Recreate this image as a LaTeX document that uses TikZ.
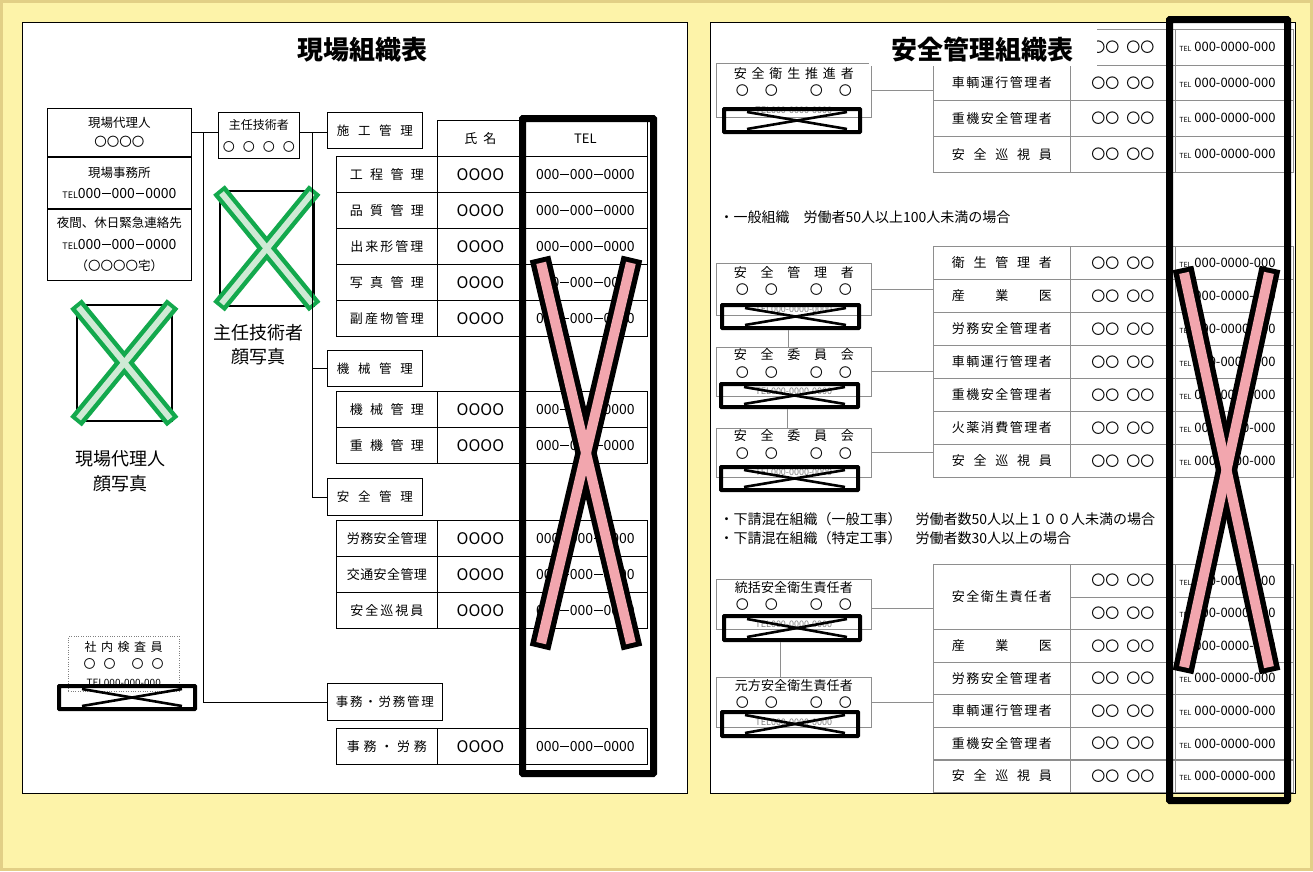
\documentclass[tikz,border=0pt]{standalone}
\usepackage{fontspec}
\setmainfont{Noto Sans CJK JP}
\usetikzlibrary{positioning}

\definecolor{paper}{HTML}{FDF3A9}
\definecolor{paperedge}{HTML}{E2CF86}
\definecolor{xgreen}{HTML}{13A94D}
\definecolor{xgreenl}{HTML}{CFEAD5}
\definecolor{xpink}{HTML}{F2A6AE}
\definecolor{rulegray}{HTML}{8E8E8E}

\newcommand\jfs[2]{\fontsize{#1}{#2}\selectfont}
% spread the characters of #2 over a box #1 wide
\def\jspreadi#1{\ifx#1\relax\unskip\else#1\hfil\expandafter\jspreadi\fi}
\newcommand\jspread[2]{\edef\jtmp{#2}\hbox to #1{\expandafter\jspreadi\jtmp\relax}}
\newcommand\jcircs[1]{\hbox to #1{〇\hfil〇\hfil\hfil〇\hfil〇}}
\newcommand\jdash{\kern1pt\rule[0.3em]{0.6em}{0.09em}\kern1pt}

\begin{document}
\begin{tikzpicture}[x=1pt,y=-1pt,
  panel/.style={draw,line width=1.4pt,fill=white,anchor=north west,inner sep=0pt},
  box/.style={draw,line width=0.8pt,fill=white,anchor=north west,inner sep=0pt,align=center},
  head/.style={box,minimum height=36,font=\jfs{12.5}{12.5}},
  cell/.style={draw,line width=0.8pt,anchor=north west,inner sep=0pt,minimum height=36,font=\jfs{13}{13}},
  rbox/.style={draw=rulegray,line width=0.6pt,fill=white,anchor=north west,inner sep=0pt,minimum width=155,align=center,font=\jfs{13}{17.5}},
  rcell/.style={draw=rulegray,line width=0.6pt,anchor=north west,inner sep=0pt,font=\jfs{13}{13}},
  conn/.style={line width=0.8pt},
  rconn/.style={rulegray,line width=0.7pt},
  telx/.style={draw,line width=4pt,anchor=north west,inner sep=0pt,rounded corners=0.5pt},
  xline/.style={line width=2.6pt},
  photo/.style={draw,line width=1.6pt,anchor=north west,inner sep=0pt},
  gxo/.style={xgreen,line width=15pt},
  gxi/.style={xgreenl,line width=6pt,shorten >=4pt,shorten <=4pt},
  rxo/.style={black,line width=21pt},
  rxi/.style={xpink,line width=10pt,shorten >=5pt,shorten <=5pt}]
\useasboundingbox (0,0) rectangle (1313,871);
\fill[paper] (0,0) rectangle (1313,871);
\draw[paperedge,line width=3pt] (1.5,1.5) rectangle (1311.5,869.5);

% left: site organisation
\node[panel,minimum width=665,minimum height=771] (genba) at (22,22) {};
\node[font=\bfseries\jfs{26}{26}] (genbatitle) at (362,50) {現場組織表};

\node[box,minimum width=144,minimum height=48,font=\jfs{12.5}{19}] (dairi) at (47,108) {現場代理人\\〇〇〇〇};
\node[box,minimum width=144,minimum height=51,font=\jfs{12.5}{21},below=0pt of dairi] (jimusho) {現場事務所\\{\jfs{9}{9}TEL}{\jfs{14}{14}000\jdash000\jdash0000}};
\node[box,minimum width=144,minimum height=71,font=\jfs{12.5}{21.5},below=0pt of jimusho] (yakan) {夜間、休日緊急連絡先\\{\jfs{9}{9}TEL}{\jfs{14}{14}000\jdash000\jdash0000}\\（〇〇〇〇宅）};
\node[box,minimum width=81,minimum height=46,font=\jfs{12}{22}] (shunin) at (218,112) {主任技術者\\\hbox to 72pt{〇\hfil〇\hfil〇\hfil〇}};

\node[photo,minimum width=94,minimum height=115] (shuninphoto) at (219,190) {};
\node[align=center,font=\jfs{18}{24}] (shunincap) at (258,345) {主任技術者\\顔写真};
\node[photo,minimum width=95,minimum height=116] (dairiphoto) at (76,304) {};
\node[align=center,font=\jfs{18}{25}] (dairicap) at (120,471) {現場代理人\\顔写真};
\foreach \p in {shuninphoto,dairiphoto}{
  \draw[gxo] (\p.north west) -- (\p.south east);
  \draw[gxo] (\p.north east) -- (\p.south west);
  \draw[gxi] (\p.north west) -- (\p.south east);
  \draw[gxi] (\p.north east) -- (\p.south west);
}

\node[draw=gray,dotted,fill=white,anchor=north west,inner sep=0pt,minimum width=111,minimum height=55,align=center,font=\jfs{12}{17.5}] (kensa) at (68,636) {\jspread{78pt}{社内検査員}\\\jcircs{80pt}\\{\jfs{10}{10}TEL000-000-000}};
\node[telx,minimum width=136,minimum height=23] (kensatel) at (57,684) {};

% section heads
\node[head,minimum width=95] (sekouhead) at (327,112) {\jspread{76pt}{施工管理}};
\node[head,minimum width=95] (kikaihead) at (327,350) {\jspread{76pt}{機械管理}};
\node[head,minimum width=95,minimum height=37] (anzenhead) at (327,478) {\jspread{76pt}{安全管理}};
\node[head,minimum width=115,minimum height=37] (jimuhead) at (327,683) {\jspread{98pt}{事務・労務管理}};

\node[cell,minimum width=86] (hname) at (437,120) {\jspread{32pt}{氏名}};
\node[cell,minimum width=124] (htel) at (523,120) {TEL};
\foreach \y/\job/\w [count=\i] in {156/工程管理/74pt,192/品質管理/74pt,228/出来形管理/73pt,264/写真管理/74pt,300/副産物管理/74pt}{
  \node[cell,minimum width=101] (sk\i) at (336,\y) {\jspread{\w}{\job}};
  \node[cell,minimum width=86,font=\jfs{16}{16}] (skname\i) at (437,\y) {OOOO};
  \node[cell,minimum width=124,font=\jfs{14}{14}] (sktel\i) at (523,\y) {000\jdash000\jdash0000};
}
\foreach \y/\job/\w [count=\i] in {391/機械管理/74pt,427/重機管理/74pt}{
  \node[cell,minimum width=101] (kk\i) at (336,\y) {\jspread{\w}{\job}};
  \node[cell,minimum width=86,font=\jfs{16}{16}] (kkname\i) at (437,\y) {OOOO};
  \node[cell,minimum width=124,font=\jfs{14}{14}] (kktel\i) at (523,\y) {000\jdash000\jdash0000};
}
\foreach \y/\job/\w [count=\i] in {520/労務安全管理/80pt,556/交通安全管理/80pt,592/安全巡視員/73pt}{
  \node[cell,minimum width=101] (ak\i) at (336,\y) {\jspread{\w}{\job}};
  \node[cell,minimum width=86,font=\jfs{16}{16}] (akname\i) at (437,\y) {OOOO};
  \node[cell,minimum width=124,font=\jfs{14}{14}] (aktel\i) at (523,\y) {000\jdash000\jdash0000};
}
\node[cell,minimum width=101] (jm1) at (336,728) {\jspread{80pt}{事務・労務}};
\node[cell,minimum width=86,font=\jfs{16}{16}] (jmname1) at (437,728) {OOOO};
\node[cell,minimum width=124,font=\jfs{14}{14}] (jmtel1) at (523,728) {000\jdash000\jdash0000};

\coordinate (trunkA) at (203,132);
\coordinate (trunkB) at (312,132);
\draw[conn] (dairi.east) -- (dairi.east -| shunin.west);
\draw[conn] (trunkA) |- (jimuhead.west);
\draw[conn] (shunin.east |- trunkB) -- (trunkB -| sekouhead.west);
\draw[conn] (trunkB) |- (anzenhead.west);
\draw[conn] (trunkB |- kikaihead.west) -- (kikaihead.west);

% right: safety organisation
\node[panel,minimum width=585,minimum height=771] (anzen) at (710,22) {};
\foreach \y/\h/\job [count=\i] in {29/36/{},65/35/車輌運行管理者,100/36/重機安全管理者,136/36/安全巡視員}{
  \node[rcell,minimum width=137,minimum height=\h] (ta\i) at (933,\y) {\jspread{100pt}{\job}};
  \node[rcell,minimum width=105,minimum height=\h,font=\jfs{14}{14}] (taname\i) at (1070,\y) {〇〇\hspace{7pt}〇〇};
  \node[rcell,minimum width=118,minimum height=\h] (tatel\i) at (1175,\y) {\makebox[110pt][l]{{\jfs{7}{7}TEL} 000-0000-000}};
}
\foreach \y/\job [count=\i] in {246/衛生管理者,279/産業医,312/労務安全管理者,345/車輌運行管理者,378/重機安全管理者,411/火薬消費管理者,444/安全巡視員}{
  \node[rcell,minimum width=137,minimum height=33] (tb\i) at (933,\y) {\jspread{100pt}{\job}};
  \node[rcell,minimum width=105,minimum height=33,font=\jfs{14}{14}] (tbname\i) at (1070,\y) {〇〇\hspace{7pt}〇〇};
  \node[rcell,minimum width=118,minimum height=33] (tbtel\i) at (1175,\y) {\makebox[110pt][l]{{\jfs{7}{7}TEL} 000-0000-000}};
}
\node[rcell,minimum width=137,minimum height=65.1] (tc1) at (933,564) {\jspread{100pt}{安全衛生責任者}};
\foreach \y/\job [count=\i from 2] in {629.1/産業医,661.7/労務安全管理者,694.3/車輌運行管理者,726.9/重機安全管理者,759.4/安全巡視員}{
  \node[rcell,minimum width=137,minimum height=32.6] (tc\i) at (933,\y) {\jspread{100pt}{\job}};
}
\foreach \y [count=\i] in {564,596.6,629.1,661.7,694.3,726.9,759.4}{
  \node[rcell,minimum width=105,minimum height=32.6,font=\jfs{14}{14}] (tcname\i) at (1070,\y) {〇〇\hspace{7pt}〇〇};
  \node[rcell,minimum width=118,minimum height=32.6] (tctel\i) at (1175,\y) {\makebox[110pt][l]{{\jfs{7}{7}TEL} 000-0000-000}};
}

\node[rbox,minimum height=54] (suishin) at (716,63) {\jspread{120pt}{安全衛生推進者}\\\jcircs{116pt}\\{\jfs{9}{9}\color{gray}TEL000-0000-0000}};
\node[rbox,minimum height=52] (kanri) at (716,263) {\jspread{120pt}{安全管理者}\\\jcircs{116pt}\\{\jfs{9}{9}\color{gray}TEL000-0000-0000}};
\node[rbox,minimum height=49] (iinkai1) at (716,347) {\jspread{120pt}{安全委員会}\\\jcircs{116pt}\\{\jfs{9}{9}\color{gray}TEL000-0000-0000}};
\node[rbox,minimum height=49] (iinkai2) at (716,428) {\jspread{120pt}{安全委員会}\\\jcircs{116pt}\\{\jfs{9}{9}\color{gray}TEL000-0000-0000}};
\node[rbox,minimum height=50] (toukatsu) at (716,579) {\jspread{118pt}{統括安全衛生責任者}\\\jcircs{116pt}\\{\jfs{9}{9}\color{gray}TEL000-0000-0000}};
\node[rbox,minimum height=50] (motokata) at (716,677) {\jspread{118pt}{元方安全衛生責任者}\\\jcircs{116pt}\\{\jfs{9}{9}\color{gray}TEL000-0000-0000}};

\node[anchor=west,font=\jfs{14}{14}] (note1) at (716,217) {・一般組織　労働者50人以上100人未満の場合};
\node[anchor=west,align=left,font=\jfs{14}{19}] (note2) at (716,528.5) {・下請混在組織（一般工事）　労働者数50人以上１００人未満の場合\\・下請混在組織（特定工事）　労働者数30人以上の場合};

\node[telx,minimum width=136,minimum height=23] (suishintel) at (722,107) {};
\node[telx,minimum width=137,minimum height=23] (kanritel) at (720,303) {};
\node[telx,minimum width=137,minimum height=23] (iinkai1tel) at (719,382) {};
\node[telx,minimum width=137,minimum height=23] (iinkai2tel) at (719,465) {};
\node[telx,minimum width=136,minimum height=24] (toukatsutel) at (722,614) {};
\node[telx,minimum width=136,minimum height=24] (motokatatel) at (720,710) {};
\foreach \t in {kensatel,suishintel,kanritel,iinkai1tel,iinkai2tel,toukatsutel,motokatatel}{
  \draw[xline] ([shift={(25,5)}]\t.north west) -- ([shift={(-15,-5)}]\t.south east);
  \draw[xline] ([shift={(25,-5)}]\t.south west) -- ([shift={(-15,5)}]\t.north east);
}

\draw[rconn] (suishin.east) -- (suishin.east -| ta2.west);
\draw[rconn] (kanri.east) -- (kanri.east -| tb2.west);
\draw[rconn] (iinkai1.east) -- (iinkai1.east -| tb4.west);
\draw[rconn] (iinkai2.east) -- (iinkai2.east -| tb7.west);
\draw[rconn] ([yshift=-4pt]toukatsu.east) -- ([yshift=-4pt]toukatsu.east -| tc1.west);
\draw[rconn] (motokata.east) -- (motokata.east -| tc4.west);
\draw[rconn] ([xshift=-2pt]kanritel.south) -- ([xshift=-2pt]kanritel.south |- iinkai1.north);
\draw[rconn] ([xshift=-2pt]iinkai1tel.south) -- ([xshift=-2pt]iinkai1tel.south |- iinkai2.north);
\draw[rconn] ([xshift=-12pt]toukatsutel.south) -- ([xshift=-12pt]toukatsutel.south |- motokata.north);

\node[fill=white,inner sep=0pt,anchor=north west,minimum width=228,minimum height=43] (titlemask) at (869,23) {};
\node[font=\bfseries\jfs{26}{26}] (anzentitle) at (982,50) {安全管理組織表};

% crossed-out phone columns
\node[telx,line width=7pt,minimum width=131,minimum height=655] (telmaskL) at (519,115) {};
\node[telx,line width=7pt,minimum width=118,minimum height=781] (telmaskR) at (1166,16) {};
\coordinate (lxa) at (540,258);
\coordinate (lxb) at (632,258);
\coordinate (lxc) at (540,648);
\coordinate (lxd) at (632,648);
\coordinate (rxa) at (1183,268);
\coordinate (rxb) at (1270,268);
\coordinate (rxc) at (1183,672);
\coordinate (rxd) at (1270,672);
\draw[rxo] (lxa) -- (lxd);
\draw[rxo] (lxb) -- (lxc);
\draw[rxi] (lxa) -- (lxd);
\draw[rxi] (lxb) -- (lxc);
\draw[rxo] (rxa) -- (rxd);
\draw[rxo] (rxb) -- (rxc);
\draw[rxi] (rxa) -- (rxd);
\draw[rxi] (rxb) -- (rxc);
\end{tikzpicture}
\end{document}
